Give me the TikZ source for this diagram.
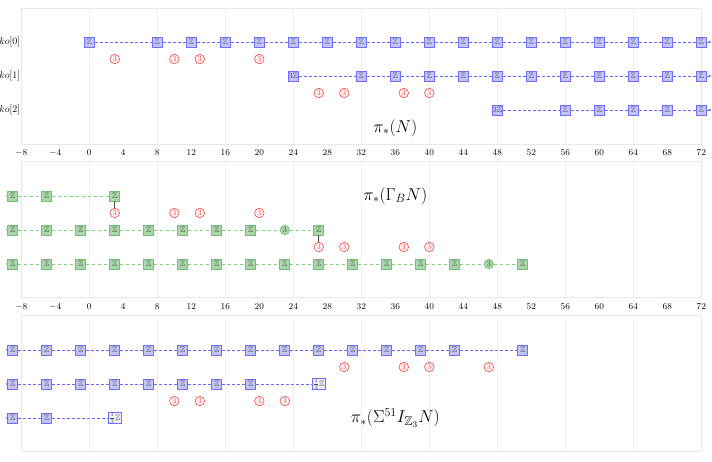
\documentclass[tikz,border=0pt]{standalone}
\usepackage{amssymb}
\usetikzlibrary{arrows.meta}
\definecolor{bbord}{RGB}{110,110,250}
\definecolor{bfill}{RGB}{195,195,248}
\definecolor{bline}{RGB}{105,105,255}
\definecolor{gbord}{RGB}{110,195,110}
\definecolor{gfill}{RGB}{170,215,170}
\definecolor{gline}{RGB}{120,210,120}
\definecolor{rcol}{RGB}{245,70,70}
\definecolor{ztext}{RGB}{75,75,75}
\definecolor{gridc}{RGB}{240,240,240}
\definecolor{framec}{RGB}{232,232,232}
\begin{document}
\begin{tikzpicture}[x=8.5pt,y=-1pt,
 gridl/.style={draw=gridc,line width=0.6pt},
 framel/.style={draw=framec,line width=0.6pt},
 axl/.style={font=\small, inner sep=0pt},
 lab/.style={anchor=east,inner sep=0.5pt},
 ttl/.style={font=\fontsize{18}{20}\selectfont},
 zbox/.style={rectangle, line width=0.7pt, minimum size=10pt, inner sep=0.5pt, font=\footnotesize, text=ztext},
 bz/.style={zbox, draw=bbord, fill=bfill},
 gz/.style={zbox, draw=gbord, fill=gfill},
 bq/.style={zbox, draw=bbord, fill=bfill!25, minimum height=11.5pt},
 rc/.style={circle, draw=rcol, fill=rcol!6, text=rcol, line width=0.6pt, inner sep=0.2pt, minimum size=9.5pt, font=\footnotesize},
 gc/.style={circle, draw=gbord, fill=gfill, text=ztext, line width=0.6pt, inner sep=0.2pt, minimum size=9.5pt, font=\footnotesize},
 bdash/.style={draw=bline, dash pattern=on 3pt off 2pt, line width=0.8pt},
 gdash/.style={draw=gline, dash pattern=on 3pt off 3pt, line width=0.9pt},
 endtip/.style={-{Latex[length=2.5pt,width=3pt]}},
 vl/.style={draw=ztext, line width=0.8pt},
]
\useasboundingbox (-10.506,0) rectangle (73.259,462);
% frames and grid
\foreach \t/\b in {8/144,161/297,315/451}{
  \foreach \x in {0,8,...,64} \draw[gridl] (\x,\t) -- (\x,\b);
  \draw[framel] (-8,\t) rectangle (72,\b);
}
% axis labels
\foreach \y in {153,307}
  \foreach \x in {-8,-4,...,72} \node[axl] (ax\y\x) at (\x,\y) {$\x$};

% ---------- top panel ----------
\node[lab] (k0) at (-8.05,42) {$ko[0]$};
\node[lab] (k1) at (-8.05,76) {$ko[1]$};
\node[lab] (k2) at (-8.05,110) {$ko[2]$};
\foreach \x [count=\i] in {0,8,12,...,72} \node[bz] (t0-\i) at (\x,42) {$\mathbb{Z}$};
\node[bz] (t1-1) at (24,76) {$3\mathbb{Z}$};
\foreach \x [count=\i from 2] in {32,36,...,72} \node[bz] (t1-\i) at (\x,76) {$\mathbb{Z}$};
\node[bz] (t2-1) at (48,110) {$3\mathbb{Z}$};
\foreach \x [count=\i from 2] in {56,60,...,72} \node[bz] (t2-\i) at (\x,110) {$\mathbb{Z}$};
\coordinate (t0-e) at (73.2,42);
\coordinate (t1-e) at (73.2,76);
\coordinate (t2-e) at (73.2,110);
\foreach \x in {3,10,13,20} \node[rc] (r0-\x) at (\x,59) {3};
\foreach \x in {27,30,37,40} \node[rc] (r1-\x) at (\x,93) {3};
\node[ttl] (T1) at (36,128) {$\pi_*(N)$};
\foreach \i [evaluate=\i as \j using int(\i+1)] in {1,...,17} \draw[bdash] (t0-\i) -- (t0-\j);
\foreach \i [evaluate=\i as \j using int(\i+1)] in {1,...,11} \draw[bdash] (t1-\i) -- (t1-\j);
\foreach \i [evaluate=\i as \j using int(\i+1)] in {1,...,5} \draw[bdash] (t2-\i) -- (t2-\j);

% ---------- middle panel ----------
\foreach \x [count=\i] in {-9,-5,3} \node[gz] (m1-\i) at (\x,196) {$\mathbb{Z}$};
\foreach \x [count=\i] in {-9,-5,...,19,27} \node[gz] (m2-\i) at (\x,230) {$\mathbb{Z}$};
\node[gc] (m2-c) at (23,230) {3};
\foreach \x [count=\i] in {-9,-5,...,43,51} \node[gz] (m3-\i) at (\x,264) {$\mathbb{Z}$};
\node[gc] (m3-c) at (47,264) {3};
\foreach \x in {3,10,13,20} \node[rc] (mr1-\x) at (\x,213) {3};
\foreach \x in {27,30,37,40} \node[rc] (mr2-\x) at (\x,247) {3};
\coordinate (m1-s) at (-9.86,196);
\coordinate (m2-s) at (-9.86,230);
\coordinate (m3-s) at (-9.86,264);
\node[ttl] (T2) at (36,196) {$\pi_*(\Gamma_B N)$};
\foreach \i [evaluate=\i as \j using int(\i+1)] in {1,2} \draw[gdash] (m1-\i) -- (m1-\j);
\foreach \i [evaluate=\i as \j using int(\i+1)] in {1,...,7} \draw[gdash] (m2-\i) -- (m2-\j);
\draw[gdash] (m2-8) -- (m2-c);
\draw[gdash] (m2-c) -- (m2-9);
\foreach \i [evaluate=\i as \j using int(\i+1)] in {1,...,13} \draw[gdash] (m3-\i) -- (m3-\j);
\draw[gdash] (m3-14) -- (m3-c);
\draw[gdash] (m3-c) -- (m3-15);
\draw[vl] (m1-3) -- (mr1-3);
\draw[vl] (m2-9) -- (mr2-27);

% ---------- bottom panel ----------
\foreach \x [count=\i] in {-9,-5,...,43,51} \node[bz] (b1-\i) at (\x,350) {$\mathbb{Z}$};
\foreach \x [count=\i] in {-9,-5,...,19} \node[bz] (b2-\i) at (\x,384) {$\mathbb{Z}$};
\node[bq] (b2-q) at (27,384) {$\frac13\mathbb{Z}$};
\foreach \x [count=\i] in {-9,-5} \node[bz] (b3-\i) at (\x,418) {$\mathbb{Z}$};
\node[bq] (b3-q) at (3,418) {$\frac13\mathbb{Z}$};
\foreach \x in {30,37,40,47} \node[rc] (br1-\x) at (\x,367) {3};
\foreach \x in {10,13,20,23} \node[rc] (br2-\x) at (\x,401) {3};
\coordinate (b1-s) at (-9.86,350);
\coordinate (b2-s) at (-9.86,384);
\coordinate (b3-s) at (-9.86,418);
\node[ttl] (T3) at (36,418) {$\pi_*(\Sigma^{51}I_{\mathbb{Z}_3}N)$};
\foreach \i [evaluate=\i as \j using int(\i+1)] in {1,...,14} \draw[bdash] (b1-\i) -- (b1-\j);
\foreach \i [evaluate=\i as \j using int(\i+1)] in {1,...,7} \draw[bdash] (b2-\i) -- (b2-\j);
\draw[bdash] (b2-8) -- (b2-q);
\draw[bdash] (b3-1) -- (b3-2);
\draw[bdash] (b3-2) -- (b3-q);

% ---------- open-ended connectors ----------
\draw[bdash,endtip] (t0-18) -- (t0-e);
\draw[bdash,endtip] (t1-12) -- (t1-e);
\draw[bdash,endtip] (t2-6) -- (t2-e);
\draw[gdash,endtip] (m1-1) -- (m1-s);
\draw[gdash,endtip] (m2-1) -- (m2-s);
\draw[gdash,endtip] (m3-1) -- (m3-s);
\draw[bdash,endtip] (b1-1) -- (b1-s);
\draw[bdash,endtip] (b2-1) -- (b2-s);
\draw[bdash,endtip] (b3-1) -- (b3-s);
\end{tikzpicture}
\end{document}
